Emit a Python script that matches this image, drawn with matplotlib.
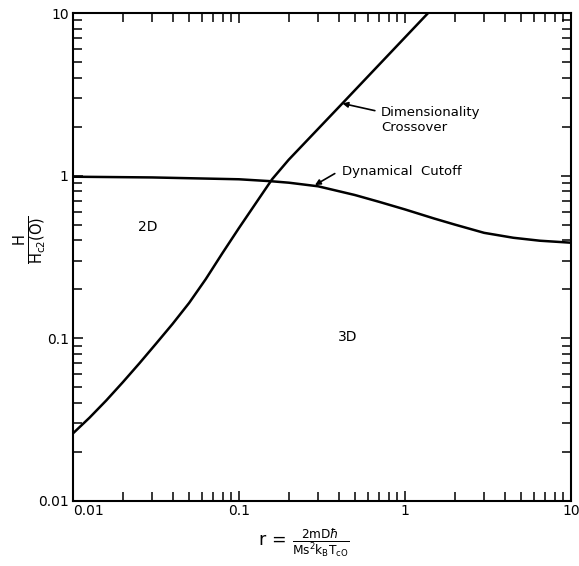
import matplotlib
matplotlib.use("Agg")
import matplotlib.pyplot as plt
import numpy as np

plt.rcParams['font.family'] = ['DejaVu Sans']
plt.rcParams['mathtext.fontset'] = 'dejavusans'

# Dynamical cutoff curve
cut_x = [0.01, 0.03, 0.1, 0.154, 0.2, 0.3, 0.5, 0.7, 1.0, 1.5, 2.0, 3.0, 4.5, 6.5, 10.0]
cut_y = [0.985, 0.975, 0.95, 0.925, 0.905, 0.86, 0.76, 0.69, 0.62, 0.545, 0.5, 0.445, 0.415, 0.398, 0.387]

# Dimensionality crossover curve
cross_x = [0.01, 0.01259, 0.01585, 0.01995, 0.02512, 0.03162, 0.03981, 0.05012, 0.0631,
           0.0794, 0.1, 0.1259, 0.1585, 0.1995, 0.417, 1.38]
cross_y = [0.026, 0.0325, 0.0414, 0.0536, 0.0701, 0.0925, 0.1225, 0.165, 0.231,
           0.333, 0.476, 0.673, 0.951, 1.253, 2.76, 10.0]

fig = plt.figure(figsize=(5.79, 5.66), dpi=100)
ax = fig.add_axes([0.126, 0.115, 0.860, 0.862])
ax.set_xscale('log')
ax.set_yscale('log')
ax.set_xlim(0.01, 10)
ax.set_ylim(0.01, 10)

ax.plot(cut_x, cut_y, color='black', lw=1.8, solid_joinstyle='round')
ax.plot(cross_x, cross_y, color='black', lw=1.8, solid_joinstyle='round')

ax.set_xticks([0.01, 0.1, 1, 10])
ax.set_xticklabels(['0.01', '0.1', '1', '10'])
ax.set_yticks([0.01, 0.1, 1, 10])
ax.set_yticklabels(['0.01', '0.1', '1', '10'])
ax.tick_params(which='both', direction='in', top=True, right=True, labelsize=10, width=1.1)
ax.tick_params(which='major', length=7.5, pad=3)
ax.tick_params(axis='x', which='major', pad=2)
ax.tick_params(which='minor', length=6.5)
lab0 = ax.get_xticklabels()[0]
lab0.set_horizontalalignment('left')
for s in ax.spines.values():
    s.set_linewidth(1.5)

ax.text(0.0283, 0.48, '2D', fontsize=10, ha='center', va='center')
ax.text(0.454, 0.102, '3D', fontsize=10, ha='center', va='center')

arrow_kw = dict(arrowstyle='-|>', color='black', lw=1.2, shrinkA=0, shrinkB=0, mutation_scale=8)
ax.text(0.72, 2.2, 'Dimensionality\nCrossover', fontsize=9.5, ha='left', va='center', linespacing=1.25)
ax.annotate('', xy=(0.42, 2.78), xytext=(0.659, 2.51), arrowprops=arrow_kw)
ax.text(0.417, 1.06, 'Dynamical  Cutoff', fontsize=9.5, ha='left', va='center')
ax.annotate('', xy=(0.287, 0.875), xytext=(0.378, 1.03), arrowprops=arrow_kw)

fig.text(0.525, 0.042, r'$\mathrm{r\,=\,}\frac{\mathrm{2mD}\hbar}{\mathrm{Ms^2k_BT_{cO}}}$',
         fontsize=12.5, ha='center', va='center')
fig.text(0.052, 0.576, r'$\frac{\mathrm{H}}{\mathrm{H_{c2}(O)}}$', fontsize=15,
         ha='center', va='center', rotation=90)

fig.savefig('out.png', dpi=100)
